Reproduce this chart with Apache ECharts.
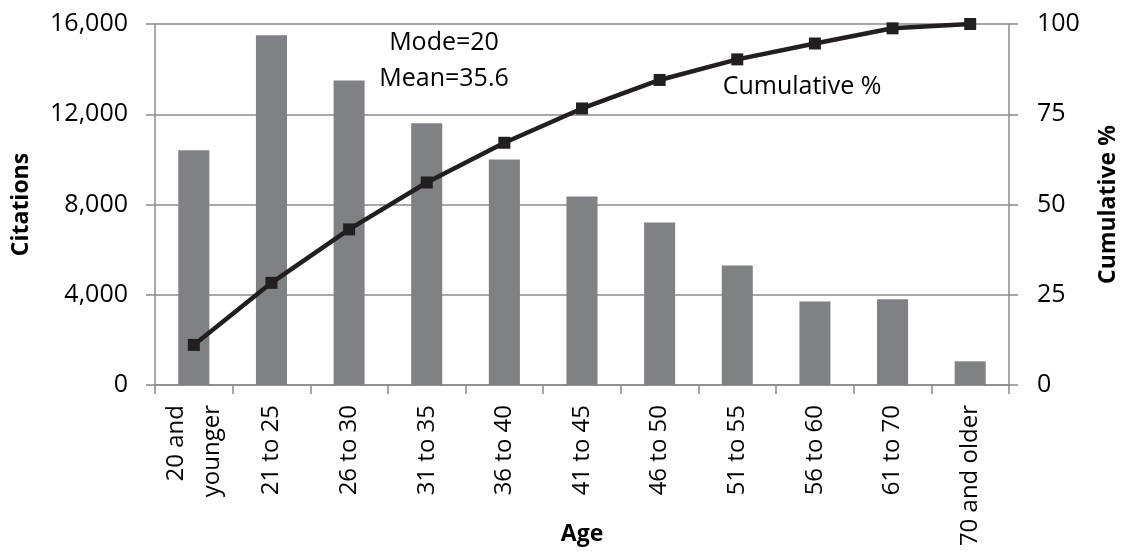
<!DOCTYPE html>
<html>
<head>
<meta charset="utf-8">
<script src="https://cdn.jsdelivr.net/npm/echarts@6/dist/echarts.min.js"></script>
<style>
html,body{margin:0;padding:0;background:#fff;}
#chart{width:1121px;height:554px;}
</style>
</head>
<body>
<div id="chart"></div>
<script>
var categories = ['20 and\nyounger','21 to 25','26 to 30','31 to 35','36 to 40','41 to 45','46 to 50','51 to 55','56 to 60','61 to 70','70 and older'];
var citations = [10400, 15500, 13500, 11600, 10000, 8350, 7200, 5300, 3700, 3800, 1050];
var cumulativePct = [11.1, 28.3, 43.1, 56.1, 67.1, 76.6, 84.5, 90.2, 94.6, 98.8, 100];
var leftTicks = [0, 4000, 8000, 12000, 16000];
var rightTicks = [0, 25, 50, 75, 100];
var annotations = ['Mode=20', 'Mean=35.6', 'Cumulative %'];

var FONT = '"Open Sans", "DejaVu Sans", sans-serif';
var GRAY = '#8a8a8a';

var chart = echarts.init(document.getElementById('chart'), null, {renderer:'canvas'});
chart.setOption({
  animation: false,
  backgroundColor: '#fff',
  textStyle: {fontFamily: FONT},
  grid: {left: 155, right: 112, top: 24, bottom: 169, containLabel: false, outerBoundsMode: 'none'},
  xAxis: {
    type: 'category',
    data: categories,
    name: 'Age',
    nameLocation: 'middle',
    nameGap: 138,
    nameMoveOverlap: false,
    nameTextStyle: {fontFamily: FONT, fontWeight: 'bold', fontSize: 23, color: '#000'},
    axisLine: {show: true, lineStyle: {color: GRAY, width: 1.5}},
    axisTick: {show: true, alignWithLabel: false, length: 9, lineStyle: {color: GRAY, width: 1.5}},
    axisLabel: {rotate: 90, fontSize: 24, color: '#000', fontFamily: FONT, margin: 20, interval: 0, lineHeight: 36}
  },
  yAxis: [{
    type: 'value',
    min: leftTicks[0], max: leftTicks[leftTicks.length-1], interval: leftTicks[1]-leftTicks[0],
    name: 'Citations',
    nameLocation: 'middle',
    nameRotate: 90,
    nameGap: 122,
    nameMoveOverlap: false,
    nameTextStyle: {fontFamily: FONT, fontWeight: 'bold', fontSize: 23, color: '#000'},
    axisLine: {show: true, lineStyle: {color: GRAY, width: 1.5}},
    axisTick: {show: true, length: 9, lineStyle: {color: GRAY, width: 1.5}},
    axisLabel: {fontSize: 25, color: '#000', fontFamily: FONT, margin: 27,
      formatter: function(v){ return v.toLocaleString('en-US'); }},
    splitLine: {show: true, lineStyle: {color: GRAY, width: 1.5}}
  },{
    type: 'value',
    position: 'right',
    min: rightTicks[0], max: rightTicks[rightTicks.length-1], interval: rightTicks[1]-rightTicks[0],
    name: 'Cumulative %',
    nameLocation: 'middle',
    nameRotate: 90,
    nameGap: 88,
    nameMoveOverlap: false,
    nameTextStyle: {fontFamily: FONT, fontWeight: 'bold', fontSize: 23, color: '#000'},
    axisLine: {show: true, lineStyle: {color: GRAY, width: 1.5}},
    axisTick: {show: true, length: 9, lineStyle: {color: GRAY, width: 1.5}},
    axisLabel: {fontSize: 25, color: '#000', fontFamily: FONT, margin: 28},
    splitLine: {show: false}
  }],
  series: [{
    type: 'bar',
    data: citations,
    barWidth: '40%',
    itemStyle: {color: '#808184'},
    z: 2
  },{
    type: 'line',
    yAxisIndex: 1,
    data: cumulativePct,
    symbol: 'rect',
    symbolSize: 12,
    showSymbol: true,
    lineStyle: {color: '#231f20', width: 4.5},
    itemStyle: {color: '#231f20'},
    z: 5
  }],
  graphic: [
    {type: 'text', x: 444, y: 43, style: {text: annotations[0], font: '25px ' + FONT, fill: '#000', align: 'center', verticalAlign: 'middle'}},
    {type: 'text', x: 444, y: 79, style: {text: annotations[1], font: '25px ' + FONT, fill: '#000', align: 'center', verticalAlign: 'middle'}},
    {type: 'text', x: 802, y: 87, style: {text: annotations[2], font: '25px ' + FONT, fill: '#000', align: 'center', verticalAlign: 'middle'}}
  ]
});
</script>
</body>
</html>
